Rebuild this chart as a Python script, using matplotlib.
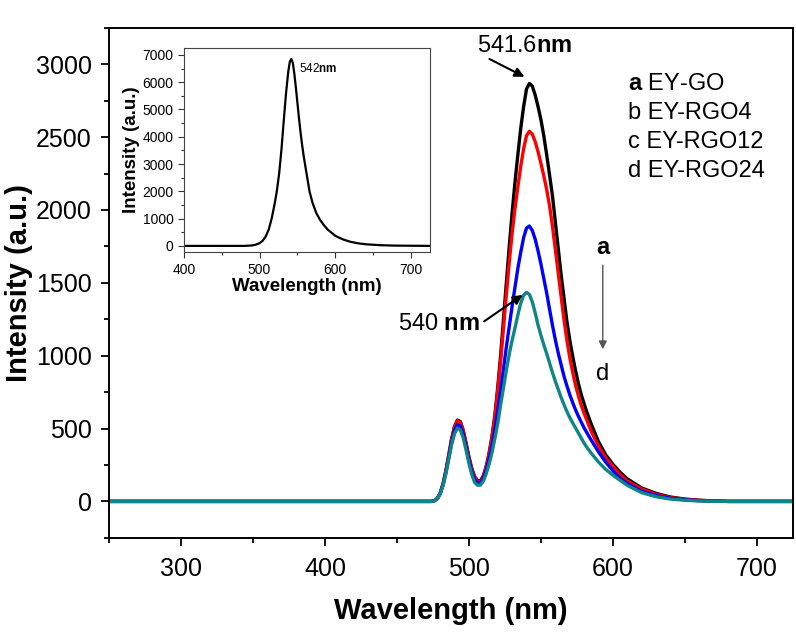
import matplotlib
matplotlib.use('Agg')
import matplotlib.pyplot as plt
from matplotlib.ticker import MultipleLocator

plt.rcParams['font.family'] = ['Liberation Sans', 'DejaVu Sans']
plt.rcParams['mathtext.fontset'] = 'custom'
plt.rcParams['mathtext.rm'] = 'Liberation Sans'
plt.rcParams['mathtext.bf'] = 'Liberation Sans:bold'

# 主图数据：波长 (nm) 与四条荧光曲线
wavelength = [250, 470,
              474, 476, 478, 480, 482, 484, 486, 488, 490, 492, 494, 496, 498, 500, 502, 504, 506,
              508, 510, 512, 514, 516, 518, 520, 522, 524, 526, 528, 530, 532, 534, 536, 538, 540,
              542, 544, 546, 548, 550, 552, 554, 556, 558, 560, 562, 564, 566, 568, 570, 572, 574,
              576, 578, 580, 582,
              585, 590, 595, 600, 605, 610, 620, 630, 640, 650, 660, 670, 680, 725]
ey_go = [0, 0,
         0, 5, 20, 55, 120, 210, 320, 430, 515, 558, 548, 490, 400, 305, 225, 170, 143,
         142, 175, 240, 330, 445, 590, 780, 1000, 1250, 1500, 1750, 1980, 2190, 2380, 2560, 2710, 2830,
         2868, 2850, 2790, 2710, 2620, 2510, 2380, 2240, 2100, 1920, 1740, 1560, 1400, 1240, 1110, 1000, 900,
         810, 734, 670, 610,
         530, 410, 320, 255, 200, 155, 92, 55, 30, 16, 8, 3, 0, 0]
ey_rgo4 = [0, 0,
           0, 5, 20, 54, 118, 207, 316, 425, 510, 553, 543, 485, 395, 300, 220, 165, 138,
           137, 170, 235, 325, 435, 575, 760, 960, 1190, 1420, 1640, 1840, 2010, 2160, 2300, 2420, 2510,
           2540, 2520, 2470, 2400, 2320, 2235, 2140, 2030, 1890, 1730, 1570, 1410, 1250, 1110, 990, 890, 800,
           725, 660, 605, 555,
           480, 380, 300, 240, 185, 140, 85, 48, 26, 14, 7, 3, 0, 0]
ey_rgo12 = [0, 0,
            0, 5, 19, 52, 113, 198, 302, 406, 487, 528, 518, 462, 375, 285, 205, 150, 127,
            127, 160, 215, 290, 380, 490, 620, 760, 910, 1060, 1200, 1340, 1470, 1600, 1710, 1810, 1875,
            1890, 1860, 1800, 1720, 1630, 1530, 1430, 1320, 1210, 1110, 1020, 940, 860, 795, 734, 680, 630,
            585, 545, 505, 470,
            420, 340, 270, 210, 160, 122, 70, 40, 22, 11, 5, 2, 0, 0]
ey_rgo24 = [0, 0,
            0, 4, 18, 50, 108, 190, 290, 390, 465, 503, 492, 437, 352, 262, 183, 130, 111,
            112, 140, 190, 255, 335, 430, 535, 660, 780, 900, 1010, 1105, 1190, 1280, 1360, 1415, 1434,
            1420, 1370, 1295, 1210, 1140, 1075, 1015, 950, 885, 825, 770, 715, 665, 618, 576, 540, 505,
            470, 435, 400, 370,
            330, 270, 220, 180, 145, 110, 60, 32, 16, 8, 3, 1, 0, 0]

series = [ey_go, ey_rgo4, ey_rgo12, ey_rgo24]
colors = ['black', '#ff0000', '#0000ff', '#0f8585']
legend_labels = [r'$\mathbf{a}$ EY-GO', 'b EY-RGO4', 'c EY-RGO12', 'd EY-RGO24']

# 插图数据
inset_wl = [400, 480, 490, 495, 500, 504, 508, 512, 516, 520, 523, 526, 529, 532, 535,
            538, 540, 542, 544, 546, 548, 550, 552, 554, 556, 558, 560, 563, 566, 570,
            575, 580, 585, 590, 600, 610, 620, 630, 640, 660, 680, 725]
inset_int = [0, 0, 15, 45, 100, 184, 340, 590, 1000, 1550, 2040, 2680, 3550, 4600, 5600,
             6400, 6750, 6850, 6700, 6300, 5800, 5250, 4700, 4200, 3750, 3350, 3000, 2500, 2000, 1580,
             1200, 950, 760, 600, 370, 240, 150, 95, 60, 25, 10, 0]

fig = plt.figure(figsize=(7.96, 6.32), dpi=100)
ax = fig.add_axes([0.137, 0.149, 0.859, 0.807])

for y, c in zip(series, colors):
    ax.plot(wavelength, y, color=c, lw=2.4, solid_joinstyle='round', solid_capstyle='round')

ax.set_xlim(250, 725)
ax.set_ylim(-250, 3250)
ax.xaxis.set_major_locator(MultipleLocator(100))
ax.xaxis.set_minor_locator(MultipleLocator(50))
ax.yaxis.set_major_locator(MultipleLocator(500))
ax.yaxis.set_minor_locator(MultipleLocator(250))
ax.tick_params(which='both', direction='out', top=False, right=False, width=1.3)
ax.tick_params(which='major', length=6, labelsize=18)
ax.tick_params(which='minor', length=3.5)
ax.tick_params(axis='x', which='major', pad=7.5)
ax.tick_params(axis='y', which='major', pad=6.5)
for s in ax.spines.values():
    s.set_linewidth(1.4)
ax.set_xlabel('Wavelength (nm)', fontsize=21, fontweight='bold', labelpad=12)
ax.set_ylabel('Intensity (a.u.)', fontsize=21, fontweight='bold', labelpad=2)

# 标注
ax.annotate('', xy=(540.3, 2905), xytext=(512.5, 3045),
            arrowprops=dict(arrowstyle='-|>', color='black', lw=1.5, mutation_scale=14))
ax.text(538.9, 3125, r'541.6$\mathbf{nm}$', fontsize=17, ha='center', va='center')
ax.annotate('', xy=(538.9, 1428), xytext=(509, 1225),
            arrowprops=dict(arrowstyle='-|>', color='black', lw=1.5, mutation_scale=14))
ax.text(508, 1220, r'540 $\mathbf{nm}$', fontsize=17, ha='right', va='center')

for i, lab in enumerate(legend_labels):
    ax.text(610.4, 2862 - i * 199, lab, fontsize=17, ha='left', va='center')

ax.text(593, 1740, 'a', fontsize=17, fontweight='bold', ha='center', va='center')
ax.text(593, 875, 'd', fontsize=17, ha='center', va='center')
ax.annotate('', xy=(593, 1025), xytext=(593, 1640),
            arrowprops=dict(arrowstyle='-|>', color='#555555', lw=1.0, mutation_scale=12))

# 插图
ins = fig.add_axes([0.231, 0.601, 0.309, 0.323])
ins.plot(inset_wl, inset_int, color='black', lw=1.6, solid_joinstyle='round')
ins.set_xlim(400, 725)
ins.set_ylim(-230, 7250)
ins.xaxis.set_major_locator(MultipleLocator(100))
ins.xaxis.set_minor_locator(MultipleLocator(50))
ins.yaxis.set_major_locator(MultipleLocator(1000))
ins.yaxis.set_minor_locator(MultipleLocator(500))
ins.tick_params(which='both', direction='out', top=False, right=False, width=0.8, color='#333333')
ins.tick_params(which='major', length=4, labelsize=10)
ins.tick_params(which='minor', length=2)
for s in ins.spines.values():
    s.set_linewidth(0.8)
    s.set_color('#444444')
ins.set_xlabel('Wavelength (nm)', fontsize=13.5, fontweight='bold', labelpad=1)
ins.set_ylabel('Intensity (a.u.)', fontsize=13.5, fontweight='bold', labelpad=2)
ins.text(552.6, 6485, r'542$\mathbf{nm}$', fontsize=8.5, ha='left', va='center')

fig.savefig('out.png', dpi=100)
